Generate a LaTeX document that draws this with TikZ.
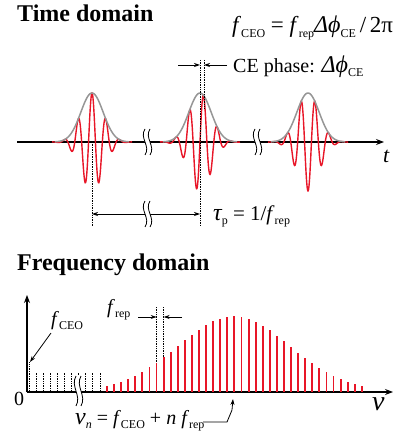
\documentclass[tikz,border=0pt]{standalone}
\usepackage{fontspec}
\setmainfont{Liberation Serif}
\usetikzlibrary{arrows.meta}
\definecolor{pulsered}{RGB}{232,22,40}
\definecolor{envgray}{RGB}{150,150,150}
\newcommand{\lowsub}[1]{\raisebox{-0.2em}{\fontsize{12}{12}\selectfont #1}}
\newcommand{\gk}[1]{{\fontsize{24}{24}\selectfont\itshape #1}}

\begin{document}
\begin{tikzpicture}[x=1pt,y=-1pt,
  title/.style={font=\fontsize{24}{28}\selectfont\bfseries,anchor=base west,inner sep=0pt},
  lbl/.style={font=\fontsize{20}{24}\selectfont,anchor=base west,inner sep=0pt},
  axis/.style={line width=1.1pt,-{Stealth[length=8pt,width=6pt]}},
  env/.style={envgray,line width=1.5pt},
  carrier/.style={pulsered,line width=1.4pt},
  comb/.style={pulsered,line width=1.9pt},
  guide/.style={densely dotted,line width=0.7pt},
  dim/.style={line width=0.8pt,-{Stealth[length=6pt,width=4pt]}},
  dimboth/.style={line width=0.8pt,{Stealth[length=6pt,width=4pt]}-{Stealth[length=6pt,width=4pt]}},
  brkline/.style={line width=0.8pt},
  brk/.pic={
    \fill[white] (-3,-13) .. controls (-9,-4) and (3,4) .. (-3,13) -- (2,13) .. controls (8,4) and (-4,-4) .. (2,-13) -- cycle;
    \draw[brkline] (-3,-13) .. controls (-9,-4) and (3,4) .. (-3,13);
    \draw[brkline] (2,-13) .. controls (-4,-4) and (8,4) .. (2,13);
  }
]
\useasboundingbox (0,0) rectangle (403,435);

% time domain
\node[title] (ttl) at (17,22) {Time domain};
\node[lbl,font=\fontsize{23}{25}\selectfont] (fceo) at (232,33) {\textit{f}\lowsub{CEO} = \textit{f}\lowsub{rep}\gk{Δϕ}\lowsub{CE}\,/\,2π};
\node[lbl] (cephase) at (233,73) {CE phase: \gk{Δϕ}\lowsub{CE}};

\coordinate (t0) at (17,142);
\coordinate (t1) at (384,142);
\draw[axis] (t0) -- (t1);
\node[lbl,font=\fontsize{22}{24}\selectfont\itshape] (tlab) at (383,163) {t};

\foreach \c/\ph in {92/0,200/90,308/180}{
  \draw[carrier] plot[domain=\c-40:\c+40,samples=220] (\x,{142-49*exp(-((\x-\c)^2)/250)*cos(360*(\x-\c)/13.8-\ph)});
  \draw[env] plot[domain=\c-37:\c+37,samples=80] (\x,{142-49*exp(-((\x-\c)^2)/250)});
}

\draw[guide] (92,142) -- (92,226);
\draw[guide] (200,60) -- (200,226);
\draw[guide] (204,60) -- (204,108);

\coordinate (ceL) at (178,65);
\coordinate (ceR) at (227,65);
\draw[dim] (ceL) -- (200,65);
\draw[dim] (ceR) -- (204,65);

\coordinate (tauL) at (92,214);
\coordinate (tauR) at (200,214);
\draw[dimboth] (tauL) -- (tauR);
\node[lbl,font=\fontsize{21}{24}\selectfont] (tau) at (213,220) {\gk{τ}\lowsub{p} = 1/\textit{f}\lowsub{rep}};

\pic at (148,142) {brk};
\pic at (258,142) {brk};
\pic at (148,214) {brk};

% frequency domain
\node[title] (ftl) at (17,270) {Frequency domain};

\coordinate (o) at (27,392);
\draw[axis] (o) -- (27,295);
\draw[axis] (o) -- (393,392);
\node[lbl] (zero) at (14,405) {0};
\node[lbl,font=\fontsize{28}{30}\selectfont\itshape] (nulab) at (372,410) {ν};

\draw[guide] (29.1,392) -- (29.1,362);
\foreach \k in {1,...,10}
  \draw[guide] (29.1+7.08*\k,392) -- (29.1+7.08*\k,372);
\draw[guide] (156.6,307) -- (156.6,392);
\draw[guide] (163.7,307) -- (163.7,392);
\foreach \k in {11,...,47}{
  \pgfmathsetmacro\xx{29.1+7.08*\k}
  \pgfmathsetmacro\hh{75*exp(-((\xx-234)^2)/6276)}
  \draw[comb] (\xx,391.5) -- ++(0,-\hh);
}
\pic[yscale=1.15] at (79,391) {brk};

\node[lbl] (frep) at (107,313) {\textit{f}\lowsub{rep}};
\coordinate (frL) at (138,317);
\coordinate (frR) at (182,317);
\draw[dim] (frL) -- (156.6,317);
\draw[dim] (frR) -- (163.7,317);

\node[lbl] (fceolab) at (51,325) {\textit{f}\lowsub{CEO}};
\coordinate (fcA) at (51,333);
\coordinate (fcB) at (30,362);
\draw[dim] (fcA) -- (fcB);

\node[lbl] (nun) at (75,424) {\gk{ν}\lowsub{\textit{n}} = \textit{f}\lowsub{CEO} + \textit{n f}\lowsub{rep}};
\coordinate (hk0) at (203,422);
\coordinate (hk1) at (227,422);
\coordinate (hk2) at (233,399);
\draw[dim] (hk0) -- (hk1) -- (232,410) -- (hk2);
\end{tikzpicture}
\end{document}
